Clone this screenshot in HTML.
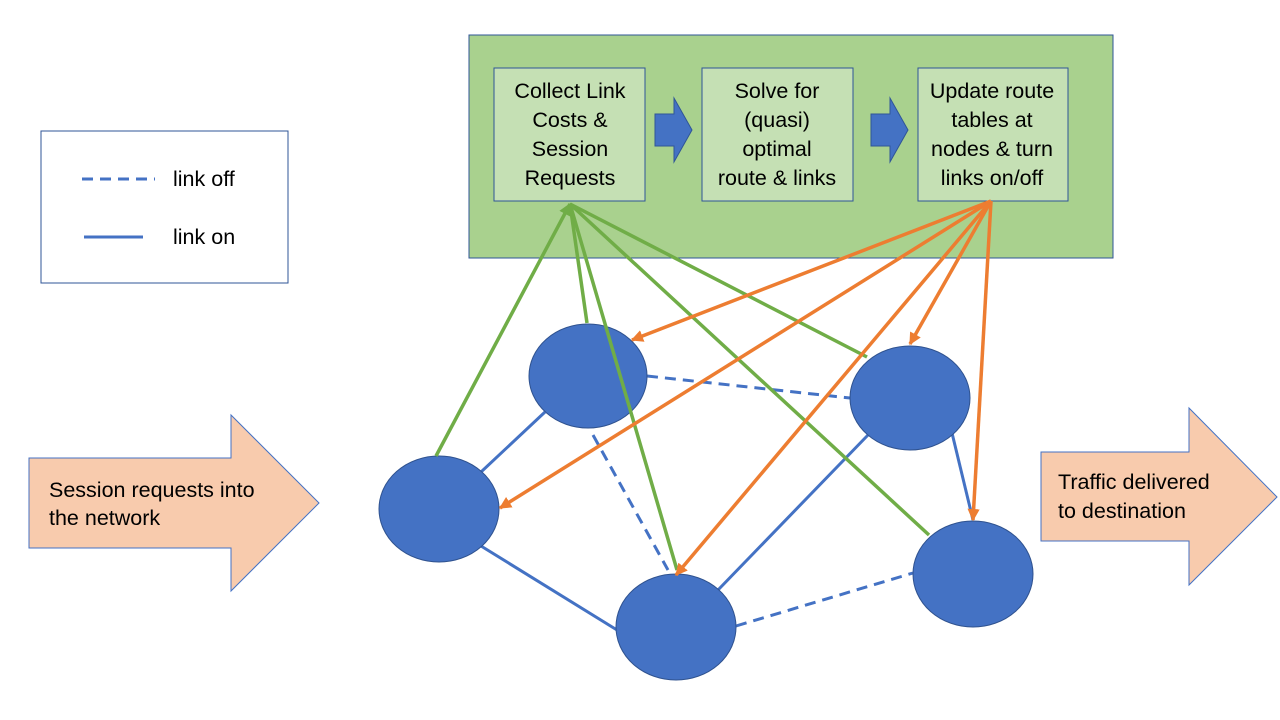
<!DOCTYPE html>
<html><head><meta charset="utf-8"><style>body{margin:0;background:#fff}svg{display:block}text{font-family:"Liberation Sans",sans-serif;font-size:21.5px;fill:#000}</style></head><body>
<svg width="1280" height="720" viewBox="0 0 1280 720">
<defs>
<marker id="og" viewBox="0 0 10 10" refX="9" refY="5" markerWidth="3.5" markerHeight="3.5" orient="auto"><path d="M0,0L10,5L0,10z" fill="#ed7d31"/></marker>
<marker id="gr" viewBox="0 0 10 10" refX="9" refY="5" markerWidth="3.5" markerHeight="3.5" orient="auto"><path d="M0,0L10,5L0,10z" fill="#70ad47"/></marker>
</defs>
<rect x="469" y="35" width="644" height="223" fill="#a9d18e" stroke="#2f5597" stroke-width="1"/>
<rect x="494" y="68" width="151" height="133" fill="#c5e0b4" stroke="#2f5597"/>
<rect x="702" y="68" width="151" height="133" fill="#c5e0b4" stroke="#2f5597"/>
<rect x="918" y="68" width="150" height="133" fill="#c5e0b4" stroke="#2f5597"/>
<g text-anchor="middle">
<text x="570" y="98">Collect Link</text><text x="570" y="127">Costs &amp;</text><text x="570" y="156">Session</text><text x="570" y="185">Requests</text>
<text x="777" y="98">Solve for</text><text x="777" y="127">(quasi)</text><text x="777" y="156">optimal</text><text x="777" y="185">route &amp; links</text>
<text x="992" y="98">Update route</text><text x="992" y="127">tables at</text><text x="992" y="156">nodes &amp; turn</text><text x="992" y="185">links on/off</text>
</g>
<path d="M655,114H674V98L692,130L674,162V146H655z" fill="#4472c4" stroke="#2f5597"/>
<path d="M871,114H890V98L908,130L890,162V146H871z" fill="#4472c4" stroke="#2f5597"/>
<rect x="41" y="131" width="247" height="152" fill="#fff" stroke="#2f5597"/>
<line x1="82" y1="179" x2="155" y2="179" stroke="#4472c4" stroke-width="3" stroke-dasharray="11,7"/>
<line x1="84" y1="237" x2="143" y2="237" stroke="#4472c4" stroke-width="3"/>
<text x="173" y="186">link off</text><text x="173" y="244">link on</text>
<path d="M29,458H231V415L319,503L231,591V548H29z" fill="#f8cbad" stroke="#4472c4"/>
<path d="M1041,452H1189V408L1277,497L1189,585V541H1041z" fill="#f8cbad" stroke="#4472c4"/>
<text x="49" y="497">Session requests into</text><text x="49" y="525">the network</text>
<text x="1058" y="489">Traffic delivered</text><text x="1058" y="518">to destination</text>
<g stroke="#4472c4" stroke-width="3">
<line x1="545" y1="412" x2="481" y2="472"/><line x1="481" y1="546" x2="617" y2="630"/><line x1="718" y1="590" x2="868" y2="435"/><line x1="952" y1="433" x2="973" y2="520"/>
<g stroke-dasharray="11,7"><line x1="647" y1="376" x2="850" y2="398"/><line x1="593" y1="435" x2="668" y2="570"/><line x1="736" y1="626" x2="913" y2="573"/></g>
</g>
<g fill="#4472c4" stroke="#2f528f">
<ellipse cx="588" cy="376" rx="59" ry="52"/><ellipse cx="439" cy="509" rx="60" ry="53"/><ellipse cx="910" cy="398" rx="60" ry="52"/><ellipse cx="676" cy="627" rx="60" ry="53"/><ellipse cx="973" cy="574" rx="60" ry="53"/>
</g>
<g stroke="#70ad47" stroke-width="3.5">
<line x1="436" y1="456" x2="570" y2="204" marker-end="url(#gr)"/>
<line x1="587" y1="323" x2="570" y2="204"/>
<line x1="677" y1="570" x2="570" y2="204"/>
<line x1="867" y1="357" x2="570" y2="204"/>
<line x1="929" y1="535" x2="570" y2="204"/>
</g>
<g stroke="#ed7d31" stroke-width="3.5" marker-end="url(#og)">
<line x1="991" y1="201" x2="632" y2="340"/>
<line x1="991" y1="201" x2="500" y2="508"/>
<line x1="991" y1="201" x2="676" y2="575"/>
<line x1="991" y1="201" x2="910" y2="344"/>
<line x1="991" y1="201" x2="973" y2="520"/>
</g>
</svg></body></html>
